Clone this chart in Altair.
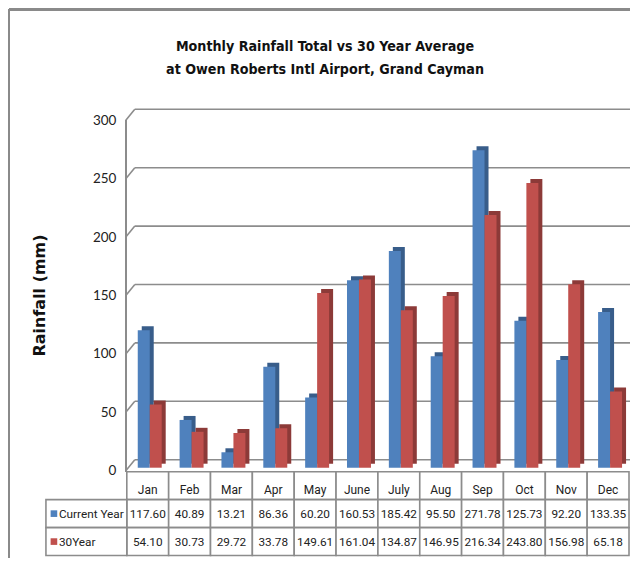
import altair as alt
import pandas as pd

# ---- data ----
months = ["Jan", "Feb", "Mar", "Apr", "May", "June", "July", "Aug", "Sep", "Oct", "Nov", "Dec"]
current_year = [117.60, 40.89, 13.21, 86.36, 60.20, 160.53, 185.42, 95.50, 271.78, 125.73, 92.20, 133.35]
thirty_year = [54.10, 30.73, 29.72, 33.78, 149.61, 161.04, 134.87, 146.95, 216.34, 243.80, 156.98, 65.18]
series_names = ["Current Year", "30Year"]
y_ticks = [0, 50, 100, 150, 200, 250, 300]

title_lines = ["Monthly Rainfall Total vs 30 Year Average",
               "at Owen Roberts Intl Airport, Grand Cayman"]
y_title = "Rainfall (mm)"

# ---- styles ----
W, H = 503, 351
BLUE, BLUE_SIDE = "#4F81BD", "#385D8A"
RED, RED_SIDE = "#C0504D", "#8C3A38"
GRID = "#8c8c8c"
LABEL_FONT = "Lato"
TABLE_FONT = "Roboto"
TITLE_FONT = "DejaVu Sans Condensed, Liberation Sans, sans-serif"

rows = []
for m, c, t in zip(months, current_year, thirty_year):
    rows.append({"month": m, "series": series_names[0], "value": c})
    rows.append({"month": m, "series": series_names[1], "value": t})
df = pd.DataFrame(rows)
ticks_df = pd.DataFrame({"v": y_ticks})

xenc = alt.X("month:N", sort=months,
             scale=alt.Scale(paddingInner=0, paddingOuter=0), axis=None)
yscale = alt.Scale(domain=[0, 300], nice=False)

yaxis = alt.Axis(values=y_ticks, domain=False, ticks=False, grid=False,
                 labelFont=LABEL_FONT, labelFontSize=13.5, labelColor="#222",
                 labelPadding=11, labelOffset=3,
                 title=y_title, titleFont="DejaVu Sans", titleFontSize=16,
                 titleFontWeight="bold", titleColor="#111",
                 titleAngle=270, titleX=-87, titleY=178, titleBaseline="middle",
                 titleAlign="center")

grid = alt.Chart(ticks_df).mark_rule(color=GRID, strokeWidth=1.6, yOffset=-8).encode(
    x=alt.value(8), x2=alt.value(W + 1),
    y=alt.Y("v:Q", scale=yscale, axis=yaxis))

diag = alt.Chart(ticks_df).mark_rule(color=GRID, strokeWidth=1.6, yOffset=3, y2Offset=-8).encode(
    x=alt.value(-1), x2=alt.value(8),
    y=alt.Y("v:Q", scale=yscale), y2="v:Q")

front_axis = alt.Chart(ticks_df).mark_rule(color=GRID, strokeWidth=1.6, yOffset=3, y2Offset=4).encode(
    x=alt.value(-1), y=alt.datum(300), y2=alt.datum(0))

frame_top = alt.Chart(ticks_df).mark_rule(color="#8a8a8a", strokeWidth=2).encode(
    x=alt.value(-118), x2=alt.value(W + 1), y=alt.value(-108))
frame_left = alt.Chart(ticks_df).mark_rule(color="#8a8a8a", strokeWidth=2).encode(
    x=alt.value(-118), y=alt.value(-108), y2=alt.value(H + 90))


def bars(name, color, side, off):
    base = alt.Chart(df).transform_filter(alt.datum.series == name)
    shadow = base.mark_bar(size=12, color=side, xOffset=off + 4, yOffset=-4, y2Offset=-4).encode(
        x=xenc, y=alt.Y("value:Q", scale=yscale))
    front = base.mark_bar(size=12, color=color, xOffset=off).encode(
        x=xenc, y=alt.Y("value:Q", scale=yscale))
    return [shadow, front]


top = alt.layer(
    frame_top, frame_left, grid, diag, front_axis,
    *bars(series_names[0], BLUE, BLUE_SIDE, -4),
    *bars(series_names[1], RED, RED_SIDE, 8),
).properties(
    width=W, height=H,
    title=alt.TitleParams(text=title_lines, font=TITLE_FONT, fontSize=14.2,
                          fontWeight="bold", color="#111", anchor="middle", frame="group",
                          dx=-53, offset=-69, lineHeight=23),
)

# ---- data table ----
row_order = ["hdr"] + series_names
cells = []
for i, m in enumerate(months):
    cells.append({"month": m, "row": "hdr", "txt": m})
    cells.append({"month": m, "row": series_names[0], "txt": f"{current_year[i]:.2f}"})
    cells.append({"month": m, "row": series_names[1], "txt": f"{thirty_year[i]:.2f}"})
cells_df = pd.DataFrame(cells)
labels_df = pd.DataFrame({"row": series_names})

yrow = alt.Y("row:N", sort=row_order, scale=alt.Scale(domain=row_order, paddingInner=0, paddingOuter=0), axis=None)

cell_rects = alt.Chart(cells_df).mark_rect(fill="white", stroke=GRID, strokeWidth=1.6).encode(
    x=xenc, y=yrow)
hdr_text = alt.Chart(cells_df).transform_filter(alt.datum.row == "hdr").mark_text(
    font=TABLE_FONT, fontSize=12, color="#222", dy=4).encode(x=xenc, y=yrow, text="txt:N")
val_text = alt.Chart(cells_df).transform_filter(alt.datum.row != "hdr").mark_text(
    font=TABLE_FONT, fontSize=11.8, color="#222").encode(x=xenc, y=yrow, text="txt:N")
label_cells = alt.Chart(labels_df).mark_rect(fill="white", stroke=GRID, strokeWidth=1.6).encode(
    x=alt.value(-81), x2=alt.value(0), y=yrow)
label_keys = alt.Chart(labels_df).mark_square(size=44, opacity=1).encode(
    x=alt.value(-73), y=yrow,
    color=alt.Color("row:N", scale=alt.Scale(domain=series_names, range=[BLUE, RED]), legend=None))
label_text = alt.Chart(labels_df).mark_text(
    font=TABLE_FONT, fontSize=11.8, color="#222", align="left").encode(
    x=alt.value(-68), y=yrow, text="row:N")

table = alt.layer(cell_rects, hdr_text, val_text, label_cells, label_keys, label_text).properties(
    width=W, height=84)

chart = alt.vconcat(top, table, spacing=4, bounds="flush").properties(
    padding=0, background="white"
).configure_view(stroke=None)

chart.save("out.html", embed_options={"renderer": "svg", "actions": False})
